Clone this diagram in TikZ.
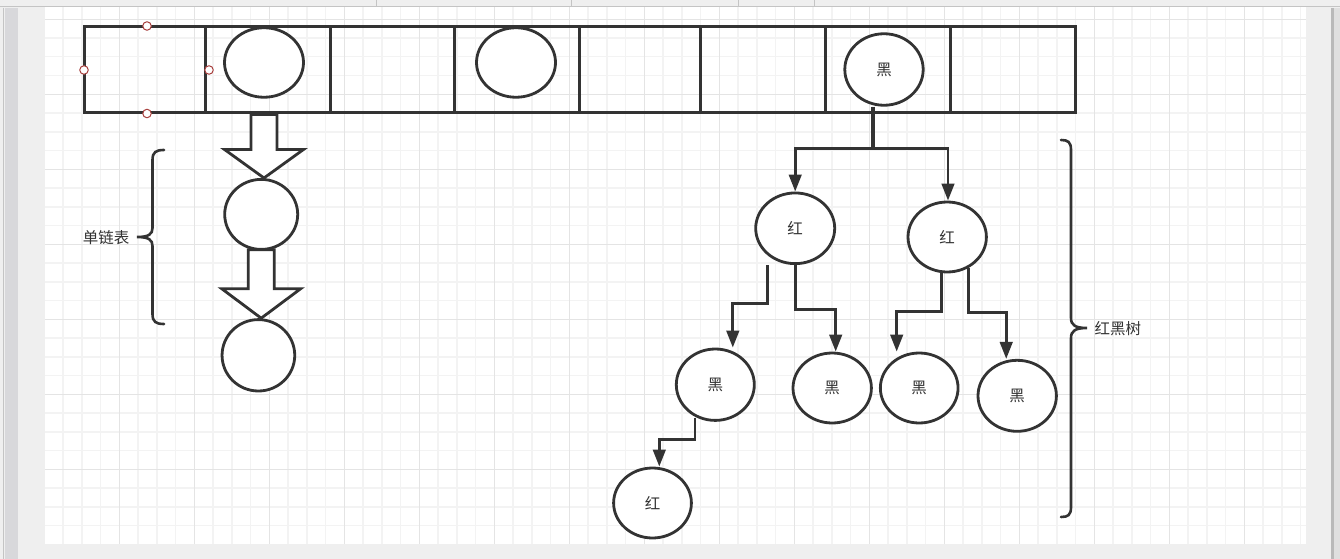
\documentclass[tikz,border=0pt]{standalone}
\usepackage{fontspec}
\newfontfamily\cjk{Noto Sans CJK SC}
\usetikzlibrary{shapes.geometric,arrows.meta,calc}

\definecolor{ink}{HTML}{333333}
\definecolor{chrome}{HTML}{EFEFEF}
\definecolor{chromeline}{HTML}{C4C4C4}
\definecolor{sidebar}{HTML}{D8D8DB}
\definecolor{gridminor}{HTML}{F3F3F3}
\definecolor{gridmajor}{HTML}{E4E4E4}
\definecolor{handle}{HTML}{A8403E}

\tikzset{
  outline/.style={draw=ink, line width=3pt},
  cellbox/.style={outline, rectangle, minimum height=86.5pt, inner sep=0pt, fill=none},
  oval/.style={draw=ink, line width=2.8pt, ellipse, fill=white, inner sep=0pt,
               minimum width=78pt, minimum height=70pt,
               font=\cjk\fontsize{15.5}{18}\selectfont, text=ink},
  blk/.style={draw=ink, line width=2.8pt, fill=white, line join=miter},
  edge/.style={draw=ink, line width=2.9pt, -{Triangle[length=17pt,width=12.5pt]}},
  brace/.style={draw=ink, line width=2.6pt, line cap=round},
  lbl/.style={font=\cjk\fontsize{15.5}{18}\selectfont, text=ink, inner sep=0pt},
  grip/.style={circle, draw=handle, fill=white, line width=1pt,
               minimum size=8.5pt, inner sep=0pt},
  minor/.style={draw=gridminor, line width=1.4pt},
  major/.style={draw=gridmajor, line width=1.4pt}
}

\begin{document}
\begin{tikzpicture}[x=1pt, y=-1pt]
  \useasboundingbox (0,0) rectangle (1340,559);

  % editor chrome around the page
  \fill[chrome] (0,0) rectangle (1340,559);
  \draw[chromeline, line width=1pt] (0,6.5) -- (1340,6.5);
  \foreach \t in {376,571,738,814}
    \draw[chromeline, line width=1pt] (\t,0) -- (\t,6);
  \fill[sidebar] (5,8) rectangle (18,559);
  \draw[chromeline, line width=1.5pt] (3.5,8) -- (3.5,559);
  \fill[gray!55] (1331,8) rectangle (1333.5,559);
  \fill[gray!25] (1333.5,8) rectangle (1340,559);

  % page with its grid
  \fill[white] (45,7) rectangle (1306,544);
  \foreach \i in {1,...,67}
    \draw[minor] ({44.3+18.75*\i},7) -- ({44.3+18.75*\i},544);
  \foreach \j in {0,...,27}
    \draw[minor] (45,{19.3+18.75*\j}) -- (1306,{19.3+18.75*\j});
  \foreach \i in {4,8,...,64}
    \draw[major] ({44.3+18.75*\i},7) -- ({44.3+18.75*\i},544);
  \foreach \j in {0,4,...,24}
    \draw[major] (45,{19.3+18.75*\j}) -- (1306,{19.3+18.75*\j});

  % hash table buckets
  \node[cellbox, minimum width=121pt] (c1) at (144.5,69.75) {};
  \node[cellbox, minimum width=125pt] (c2) at (267.5,69.75) {};
  \node[cellbox, minimum width=124pt] (c3) at (392,69.75) {};
  \node[cellbox, minimum width=125pt] (c4) at (516.5,69.75) {};
  \node[cellbox, minimum width=121pt] (c5) at (639.5,69.75) {};
  \node[cellbox, minimum width=125pt] (c6) at (762.5,69.75) {};
  \node[cellbox, minimum width=125pt] (c7) at (887.5,69.75) {};
  \node[cellbox, minimum width=125pt] (c8) at (1012.5,69.75) {};

  % selection grips on the first bucket
  \node[grip] (g1) at (147,26) {};
  \node[grip] (g2) at (84,70) {};
  \node[grip] (g3) at (209,70) {};
  \node[grip] (g4) at (147,113.5) {};

  % entries stored in buckets
  \node[oval, minimum width=79pt, minimum height=69.5pt] (a1) at (264,62.5) {};
  \node[oval, minimum width=79pt, minimum height=69.5pt] (a2) at (516,62.5) {};
  \node[oval, minimum width=78.4pt, minimum height=71.5pt] (r0) at (884,69.5) {黑};

  % singly linked list
  \node[oval, minimum width=73pt, minimum height=70pt] (l1) at (261.2,214.4) {};
  \node[oval, minimum width=72.7pt, minimum height=71.4pt] (l2) at (258.4,355.3) {};

  \draw[blk] ($(a1 |- c2.south)+(-13,0)$) -- ($(a1 |- c2.south)+(13,0)$)
    -- ($(a1 |- l1.north)+(13,-28.5)$) -- ($(a1 |- l1.north)+(39.5,-28.5)$)
    -- (a1 |- l1.north)
    -- ($(a1 |- l1.north)+(-39.5,-28.5)$) -- ($(a1 |- l1.north)+(-13,-28.5)$) -- cycle;
  \draw[blk] ($(l1.south)+(-13,-1)$) -- ($(l1.south)+(13,-1)$)
    -- ($(l1 |- l2.north)+(13,-29.5)$) -- ($(l1 |- l2.north)+(39.5,-29.5)$)
    -- (l1 |- l2.north)
    -- ($(l1 |- l2.north)+(-39.5,-29.5)$) -- ($(l1 |- l2.north)+(-13,-29.5)$) -- cycle;

  % red-black tree
  \node[oval, minimum width=79pt, minimum height=70.7pt] (rl) at (795.2,228.3) {红};
  \node[oval, minimum width=78.4pt, minimum height=70pt] (rr) at (947.2,237) {红};
  \node[oval, minimum width=78pt, minimum height=71.4pt] (n1) at (715.3,384.7) {黑};
  \node[oval, minimum width=78.4pt, minimum height=70pt] (n2) at (832.2,388) {黑};
  \node[oval, minimum width=77.7pt, minimum height=70pt] (n3) at (919.2,388) {黑};
  \node[oval, minimum width=78.4pt, minimum height=71pt] (n4) at (1017.2,395.8) {黑};
  \node[oval, minimum width=77.8pt, minimum height=70pt] (n5) at (652.5,503) {红};

  \draw[edge] ([xshift=-12pt]r0.south) -- ++(0,42) -| (rl.north);
  \draw[edge] ([xshift=-10.5pt]r0.south) -- ++(0,42) -| ([xshift=0.8pt]rr.north);
  \draw[edge] ([xshift=-28pt]rl.south) -- ++(0,38) -| ([xshift=17.5pt]n1.north);
  \draw[edge] (rl.south) -- ++(0,44) -| ([xshift=3.5pt]n2.north);
  \draw[edge] ([xshift=-6pt]rr.south) -- ++(0,38) -| ([xshift=-22.5pt]n3.north);
  \draw[edge] ($(rr.south)+(21,-5)$) -- ++(0,44) -| ([xshift=-11pt]n4.north);
  \draw[edge] ($(n1.south)+(-20.3,-4)$) -- ++(0,22) -| ([xshift=6.8pt]n5.north);

  % braces with their captions
  \draw[brace] (164,150) .. controls (156,150) and (152.5,152) .. (152.5,160)
    -- (152.5,228) .. controls (152.5,234) and (149,237) .. (137,237)
    .. controls (149,237) and (152.5,240) .. (152.5,246)
    -- (152.5,314) .. controls (152.5,322) and (156,324) .. (164,324);
  \node[lbl] (listcap) at (106,237.5) {单链表};

  \draw[brace] (1061,140) .. controls (1068,140) and (1071,142) .. (1071,150)
    -- (1071,318) .. controls (1071,325) and (1075,328) .. (1087,328)
    .. controls (1075,328) and (1071,331) .. (1071,338)
    -- (1071,507) .. controls (1071,515) and (1068,517) .. (1061,517);
  \node[lbl, anchor=west] (treecap) at (1094.5,328.5) {红黑树};
\end{tikzpicture}
\end{document}
